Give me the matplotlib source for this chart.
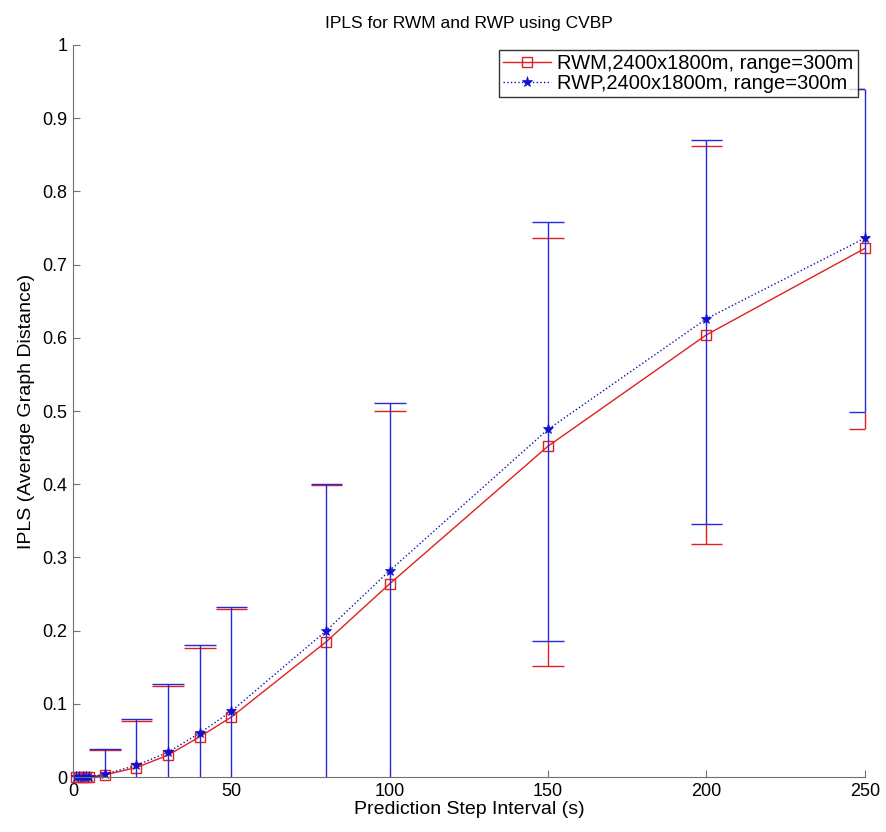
import numpy as np
import matplotlib
matplotlib.use("Agg")
import matplotlib.pyplot as plt
from matplotlib.lines import Line2D

plt.rcParams['font.family'] = ['Liberation Sans', 'DejaVu Sans']

# Data
x = [1, 2, 3, 4, 5, 10, 20, 30, 40, 50, 80, 100, 150, 200, 250]

rwm_mean = [0, 0, 0, 0, 0, 0.003, 0.013, 0.030, 0.055, 0.082, 0.185, 0.264, 0.452, 0.604, 0.722]
rwm_lower = [0, 0, 0, 0, 0, -0.03, -0.05, -0.06, -0.07, -0.07, -0.03, -0.02, 0.152, 0.318, 0.476]
rwm_upper = [0, 0, 0, 0, 0, 0.037, 0.076, 0.124, 0.176, 0.229, 0.399, 0.500, 0.736, 0.862, 0.940]

rwp_mean = [0, 0, 0, 0, 0, 0.004, 0.016, 0.034, 0.060, 0.090, 0.200, 0.282, 0.475, 0.626, 0.736]
rwp_lower = [0, 0, 0, 0, 0, -0.03, -0.05, -0.06, -0.07, -0.07, -0.03, -0.02, 0.186, 0.345, 0.499]
rwp_upper = [0, 0, 0, 0, 0, 0.039, 0.079, 0.127, 0.180, 0.232, 0.400, 0.511, 0.758, 0.870, 0.940]

xticks = [0, 50, 100, 150, 200, 250]
yticks = [0, 0.1, 0.2, 0.3, 0.4, 0.5, 0.6, 0.7, 0.8, 0.9, 1]
ytick_labels = ['0', '0.1', '0.2', '0.3', '0.4', '0.5', '0.6', '0.7', '0.8', '0.9', '1']

red = '#e02020'
blue = '#2828d8'
cap_half = 5.0  # cap half width in x data units

fig = plt.figure(figsize=(8.86, 8.32), dpi=100)
ax = fig.add_axes([0.0824, 0.066, 0.8936, 0.88])
ax.set_xlim(0, 250)
ax.set_ylim(0, 1)

xa = np.array(x, dtype=float)
rl = np.maximum(np.array(rwm_lower), 0)
ru = np.array(rwm_upper)
bl = np.maximum(np.array(rwp_lower), 0)
bu = np.array(rwp_upper)


def vbar(xi, y0, y1, color):
    # clip_on off so the bar at x=250 is not cut in half by the axes edge
    ax.plot([xi, xi], [y0, y1], color=color, linewidth=1.0, clip_on=False,
            solid_capstyle='butt')


def caps(lower, upper, color):
    for xi, l, h in zip(xa, lower, upper):
        ax.plot([xi - cap_half, xi + cap_half], [h, h], color=color, linewidth=1.0,
                solid_capstyle='butt')
        ax.plot([xi - cap_half, xi + cap_half], [l, l], color=color, linewidth=1.0,
                solid_capstyle='butt')


# red bars: only the parts that stick out beyond the blue bars (blue sits on top)
for xi, a, b, c, d in zip(xa, rl, ru, bl, bu):
    if a < c:
        vbar(xi, a, c, red)
    if b > d:
        vbar(xi, d, b, red)
caps(rwm_lower, rwm_upper, red)
ax.plot(x, rwm_mean, color=red, linestyle='-', linewidth=1, marker='s', markersize=7,
        markerfacecolor='none', markeredgecolor=red, markeredgewidth=1, clip_on=False)

for xi, c, d in zip(xa, bl, bu):
    vbar(xi, c, d, blue)
caps(rwp_lower, rwp_upper, blue)
ax.plot(x, rwp_mean, color='#1010b0', linestyle=':', linewidth=1, marker='*', markersize=8,
        markerfacecolor='#1010d0', markeredgecolor='#1010d0', markeredgewidth=0.5,
        clip_on=False)

ax.set_xticks(xticks)
ax.set_yticks(yticks)
ax.set_yticklabels(ytick_labels)

for side in ['top', 'right']:
    ax.spines[side].set_visible(False)
for side in ['left', 'bottom']:
    ax.spines[side].set_color('#707070')
ax.tick_params(direction='in', length=5, color='#707070', labelsize=13, pad=4)

ax.set_title('IPLS for RWM and RWP using CVBP', fontsize=12.5, pad=12)
ax.set_xlabel('Prediction Step Interval (s)', fontsize=14, labelpad=1)
ax.set_ylabel('IPLS (Average Graph Distance)', fontsize=14, labelpad=5)

handles = [
    Line2D([], [], color=red, linestyle='-', linewidth=1, marker='s', markersize=7,
           markerfacecolor='none', markeredgecolor=red),
    Line2D([], [], color='#1010b0', linestyle=':', linewidth=1, marker='*', markersize=8,
           markerfacecolor='#1010d0', markeredgecolor='#1010d0', markeredgewidth=0.5),
]
labels = ['RWM,2400x1800m, range=300m', 'RWP,2400x1800m, range=300m']
leg = ax.legend(handles, labels, loc='upper right', fontsize=14.5, frameon=True,
                fancybox=False, borderpad=0.2, handlelength=2.4, handletextpad=0.3,
                labelspacing=0.05, borderaxespad=0, bbox_to_anchor=(0.991, 0.993))
leg.get_frame().set_edgecolor('black')
leg.get_frame().set_linewidth(1)
leg.set_zorder(5)

fig.savefig('out.png', dpi=100)
